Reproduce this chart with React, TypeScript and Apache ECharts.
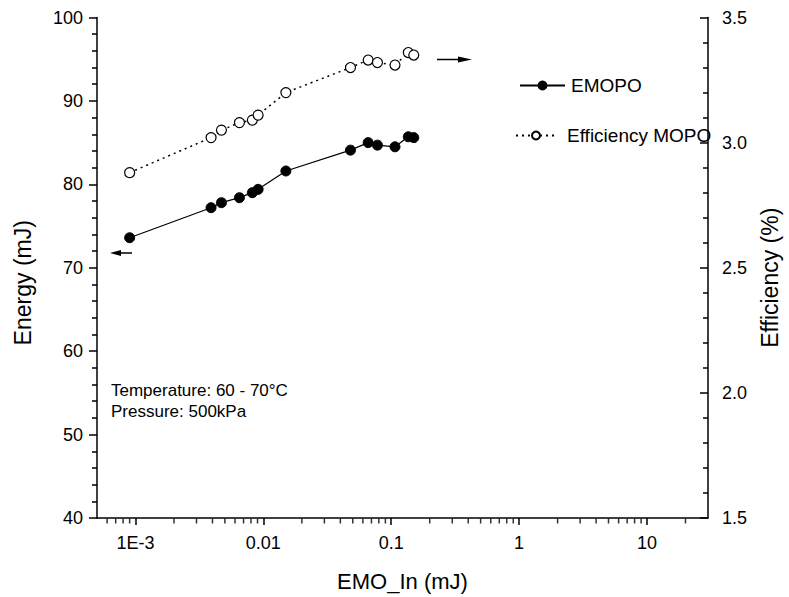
import React, { useEffect, useRef } from "react";
import * as echarts from "echarts";

const FONT = "'Liberation Sans', Arial, sans-serif";

const emoIn = [0.0009, 0.0039, 0.0047, 0.0065, 0.0082, 0.0091, 0.015, 0.048, 0.066, 0.078, 0.107, 0.136, 0.15];
const energyEMOPO = [73.6, 77.2, 77.8, 78.4, 79.0, 79.4, 81.6, 84.1, 85.0, 84.7, 84.5, 85.7, 85.6];
const efficiencyMOPO = [2.88, 3.02, 3.05, 3.08, 3.09, 3.11, 3.2, 3.3, 3.33, 3.32, 3.31, 3.36, 3.35];
const xMinorTicks = [
  0.0006, 0.0007, 0.0008, 0.0009,
  0.002, 0.003, 0.004, 0.005, 0.006, 0.007, 0.008, 0.009,
  0.02, 0.03, 0.04, 0.05, 0.06, 0.07, 0.08, 0.09,
  0.2, 0.3, 0.4, 0.5, 0.6, 0.7, 0.8, 0.9,
  2, 3, 4, 5, 6, 7, 8, 9, 20,
];
const notes = ["Temperature: 60 - 70°C", "Pressure: 500kPa"];

export default function App() {
  const ref = useRef<HTMLDivElement>(null);
  useEffect(() => {
    if (!ref.current) return;
    const chart = echarts.init(ref.current, null, { renderer: "svg" });
    const axisLine = { show: true, lineStyle: { color: "#000", width: 1.5 } };
    chart.setOption({
      animation: false,
      backgroundColor: "#fff",
      textStyle: { fontFamily: FONT },
      grid: { left: 97, right: 75, top: 17.5, bottom: 75.5 },
      legend: [
        {
          data: ["EMOPO"],
          left: 514,
          top: 71,
          itemWidth: 45,
          itemHeight: 10,
          textStyle: { fontSize: 19, color: "#000", fontFamily: FONT, padding: [0, 0, 0, 1] },
        },
        {
          data: ["Efficiency MOPO"],
          left: 510,
          top: 121,
          itemWidth: 40,
          itemHeight: 10,
          textStyle: { fontSize: 19, color: "#000", fontFamily: FONT, padding: [0, 0, 0, 6] },
        },
      ],
      xAxis: {
        type: "log",
        logBase: 10,
        min: 0.0005,
        max: 30,
        name: "EMO_In (mJ)",
        nameLocation: "middle",
        nameGap: 52,
        nameTextStyle: { fontSize: 22, color: "#000", fontFamily: FONT },
        axisLine,
        axisTick: { show: true, length: 7, lineStyle: { color: "#000", width: 1.5 } },
        splitLine: { show: false },
        axisLabel: {
          fontSize: 18,
          color: "#000",
          margin: 16,
          fontFamily: FONT,
          showMinLabel: false,
          showMaxLabel: false,
          formatter: (v: number) => (v < 0.005 ? "1E-3" : String(+v.toPrecision(4))),
        },
      },
      yAxis: [
        {
          type: "value",
          min: 40,
          max: 100,
          interval: 10,
          name: "Energy (mJ)",
          nameLocation: "middle",
          nameGap: 63,
          nameTextStyle: { fontSize: 23, color: "#000", fontFamily: FONT, padding: [0, 30, 0, 0] },
          axisLine,
          axisTick: { show: true, length: 8, lineStyle: { color: "#000", width: 1.5 } },
          minorTick: { show: true, splitNumber: 5, length: 5, lineStyle: { color: "#000", width: 1.5 } },
          splitLine: { show: false },
          axisLabel: { fontSize: 18, color: "#000", margin: 14, fontFamily: FONT },
        },
        {
          type: "value",
          min: 1.5,
          max: 3.5,
          interval: 0.5,
          position: "right",
          name: "Efficiency (%)",
          nameLocation: "middle",
          nameGap: 50,
          nameTextStyle: { fontSize: 23, color: "#000", fontFamily: FONT, padding: [0, 20, 0, 0] },
          axisLine,
          axisTick: { show: true, inside: true, length: 8, lineStyle: { color: "#000", width: 1.5 } },
          minorTick: { show: true, splitNumber: 5, length: 5, lineStyle: { color: "#000", width: 1.5 } },
          splitLine: { show: false },
          axisLabel: {
            fontSize: 18,
            color: "#000",
            margin: 14,
            fontFamily: FONT,
            formatter: (v: number) => v.toFixed(1),
          },
        },
      ],
      series: [
        {
          name: "EMOPO",
          type: "line",
          yAxisIndex: 0,
          data: emoIn.map((x, i) => [x, energyEMOPO[i]]),
          symbol: "circle",
          symbolSize: 10,
          showAllSymbol: true,
          itemStyle: { color: "#000", borderColor: "#000", borderWidth: 1 },
          lineStyle: { color: "#000", width: 1.2, type: "solid" },
          z: 3,
        },
        {
          name: "Efficiency MOPO",
          type: "line",
          yAxisIndex: 1,
          data: emoIn.map((x, i) => [x, efficiencyMOPO[i]]),
          symbol: "circle",
          symbolSize: 10,
          showAllSymbol: true,
          itemStyle: { color: "#fff", borderColor: "#000", borderWidth: 1.2 },
          lineStyle: { color: "#000", width: 1.5, type: [2, 4] },
          z: 3,
        },
        {
          name: "xMinorTicks",
          type: "scatter",
          yAxisIndex: 0,
          data: xMinorTicks.map((x) => [x, 40]),
          symbol: "rect",
          symbolSize: [1.5, 5],
          symbolOffset: [0, 3],
          itemStyle: { color: "#000" },
          silent: true,
          clip: false,
          z: 1,
        },
      ],
      graphic: [
        {
          type: "group",
          children: [
            { type: "line", shape: { x1: 119, y1: 253, x2: 132, y2: 253 }, style: { stroke: "#000", lineWidth: 1.5 } },
            { type: "polygon", shape: { points: [[110, 253], [121, 250], [121, 256]] }, style: { fill: "#000" } },
            { type: "line", shape: { x1: 437, y1: 59.5, x2: 461, y2: 59.5 }, style: { stroke: "#000", lineWidth: 1.5 } },
            { type: "polygon", shape: { points: [[472, 59.5], [458, 56.5], [458, 62.5]] }, style: { fill: "#000" } },
          ],
        },
        {
          type: "text",
          left: 111,
          top: 382,
          style: { text: notes[0], fontSize: 17, fontFamily: FONT, fill: "#000" },
        },
        {
          type: "text",
          left: 111,
          top: 403,
          style: { text: notes[1], fontSize: 17, fontFamily: FONT, fill: "#000" },
        },
      ],
    });
    return () => chart.dispose();
  }, []);
  return <div ref={ref} style={{ width: 789, height: 597, position: "absolute", left: 0, top: 0 }} />;
}
